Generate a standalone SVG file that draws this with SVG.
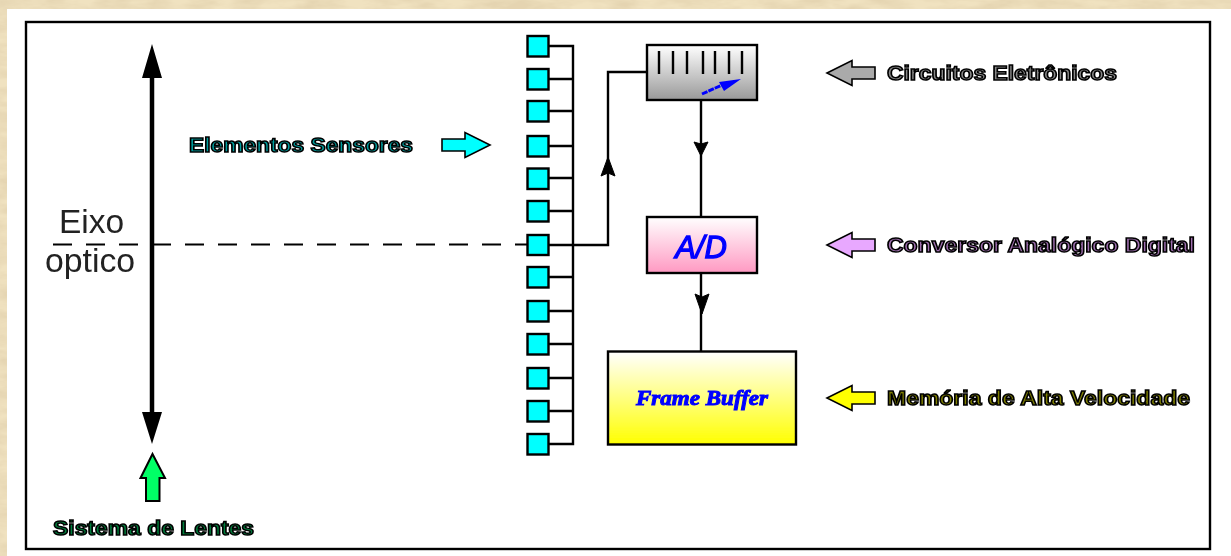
<svg xmlns="http://www.w3.org/2000/svg" width="1231" height="556" viewBox="0 0 1231 556">
<style>
.soft{filter:url(#soft)}
.frame{fill:none;stroke:#000;stroke-width:2.400}
.box{stroke:#000;stroke-width:2.400}
.sq{fill:#00ffff;stroke:#000;stroke-width:2.400}
.wire{fill:none;stroke:#000;stroke-width:2.400}
.lab{font-family:"Liberation Sans",Arial,sans-serif;font-weight:bold;font-size:20px;stroke:#000;stroke-width:1.500}
.hand{stroke:#000;stroke-width:1.600}
.big{font-family:"Liberation Sans",Arial,sans-serif;fill:#222;text-anchor:middle}
</style>
<defs>
<filter id="soft" x="-10%" y="-30%" width="120%" height="160%"><feGaussianBlur stdDeviation="0.6"/></filter>
<filter id="softer" x="-10%" y="-30%" width="120%" height="160%"><feGaussianBlur stdDeviation="0.45"/></filter>
<filter id="paper" x="0" y="0" width="100%" height="100%">
<feTurbulence type="fractalNoise" baseFrequency="0.03 0.09" numOctaves="4" seed="4"/>
<feColorMatrix values="0 0 0 0 0.78  0 0 0 0 0.66  0 0 0 0 0.44  1.400 1.400 0 0 -1"/>
</filter>
<linearGradient id="gGrey" x1="0" y1="0" x2="0" y2="1"><stop offset="0" stop-color="#fff"/><stop offset="1" stop-color="#999"/></linearGradient>
<linearGradient id="gPink" x1="0" y1="0" x2="0" y2="1"><stop offset="0" stop-color="#fff"/><stop offset="1" stop-color="#ff99c2"/></linearGradient>
<linearGradient id="gYellow" x1="0" y1="0" x2="0" y2="1"><stop offset="0" stop-color="#fff"/><stop offset="1" stop-color="#ff0"/></linearGradient>
<path id="leftArrow" d="M0 0 L25 -12.500 V-6 H48 V6 H25 V12.500 Z"/>
</defs>

<g id="background">
<rect width="1231" height="556" fill="#f0e2c0"/>
<rect width="1231" height="556" filter="url(#paper)"/>
<rect x="7" y="9" width="1224" height="547" fill="#fff"/>
</g>
<g id="frame" class="soft"><rect class="frame" x="26" y="22" width="1184" height="527"/></g>

<g id="connectors" class="soft">
<path d="M53 244.500H527" fill="none" stroke="#000" stroke-width="2.200" stroke-dasharray="19 14"/>
<path class="wire" d="M548 46H573V444H548M548 79H573M548 111H573M548 146H573M548 178H573M548 211H573M548 277H573M548 311H573M548 344H573M548 378H573M548 411H573"/>
<path class="wire" d="M548 245H608V72H647"/>
<path d="M608 157L615 176L608 173L601 176Z" fill="#000" stroke="#000"/>
<path class="wire" d="M701 100V217"/>
<path d="M701 156L694 142L701 144L708 142Z" fill="#000" stroke="#000"/>
<path class="wire" d="M701 273V351"/>
<path d="M702 314L695 294L702 297L709 294Z" fill="#000" stroke="#000"/>
</g>

<g id="lens" class="soft">
<path d="M152 77V412" stroke="#000" stroke-width="4.500" fill="none"/>
<path d="M152 44L162 78H142Z M152 444L162 412H142Z" fill="#000"/>
</g>
<g id="eixo-label" filter="url(#softer)"><text class="big" x="91.500" y="233" font-size="33.500">Eixo</text><text class="big" x="90" y="272" font-size="33.800">optico</text></g>

<g id="sensors" class="soft">
<rect class="sq" x="527.500" y="36" width="21" height="20.500"/>
<rect class="sq" x="527.500" y="69" width="21" height="20.500"/>
<rect class="sq" x="527.500" y="101" width="21" height="20.500"/>
<rect class="sq" x="527.500" y="136" width="21" height="20.500"/>
<rect class="sq" x="527.500" y="168.500" width="21" height="20.500"/>
<rect class="sq" x="527.500" y="201" width="21" height="20.500"/>
<rect class="sq" x="527.500" y="235" width="21" height="20"/>
<rect class="sq" x="527.500" y="267" width="21" height="20.500"/>
<rect class="sq" x="527.500" y="301" width="21" height="20.500"/>
<rect class="sq" x="527.500" y="334" width="21" height="20.500"/>
<rect class="sq" x="527.500" y="368" width="21" height="20.500"/>
<rect class="sq" x="527.500" y="401" width="21" height="20.500"/>
<rect class="sq" x="527.500" y="434" width="21" height="20.500"/>
</g>

<g id="circuits" class="soft">
<rect class="box" x="647" y="45" width="110" height="55" fill="url(#gGrey)"/>
<path d="M659 51V74M673 51V74M687 51V74M703 51V74M715 51V74M729 51V74M742 51V74" stroke="#000" stroke-width="2.400" fill="none"/>
<path d="M702 94L722 85" stroke="#0000ff" stroke-width="3" stroke-dasharray="6 1" fill="none"/>
<path d="M741 79L724 91L719 82Z" fill="#0000ff"/>
</g>

<g id="ad" class="soft">
<rect class="box" x="647" y="217" width="110" height="56" fill="url(#gPink)"/>
<text x="701" y="258" text-anchor="middle" font-family="Liberation Sans, Arial, sans-serif" font-style="italic" font-size="31" fill="#0000ff" stroke="#0000ff" stroke-width="1.300">A/D</text>
</g>

<g id="frame-buffer" class="soft">
<rect class="box" x="608" y="351.500" width="188" height="93" fill="url(#gYellow)"/>
<text x="636" y="405" font-family="Liberation Serif, Times New Roman, serif" font-style="italic" font-weight="bold" font-size="22" fill="#0000ff" stroke="#0000ff" stroke-width="1" textLength="132" lengthAdjust="spacingAndGlyphs">Frame Buffer</text>
</g>

<g id="label-sensores" class="soft">
<text class="lab" x="189" y="152" fill="#00a0a0" textLength="224" lengthAdjust="spacingAndGlyphs">Elementos Sensores</text>
<use href="#leftArrow" transform="translate(490 145) scale(-1 1)" fill="#00ffff" class="hand"/>
</g>
<g id="label-circuitos" class="soft">
<text class="lab" x="887" y="80" fill="#888" textLength="230" lengthAdjust="spacingAndGlyphs">Circuitos Eletrônicos</text>
<use href="#leftArrow" transform="translate(827 73)" fill="#aaa" class="hand"/>
</g>
<g id="label-conversor" class="soft">
<text class="lab" x="887" y="252" fill="#a070b0" textLength="308" lengthAdjust="spacingAndGlyphs">Conversor Analógico Digital</text>
<use href="#leftArrow" transform="translate(827 245)" fill="#e8a8ff" class="hand"/>
</g>
<g id="label-memoria" class="soft">
<text class="lab" x="887" y="405" fill="#808000" textLength="303" lengthAdjust="spacingAndGlyphs">Memória de Alta Velocidade</text>
<use href="#leftArrow" transform="translate(827 398)" fill="#ffff00" class="hand"/>
</g>
<g id="label-lentes" class="soft">
<text class="lab" x="53" y="535" fill="#00803c" textLength="201" lengthAdjust="spacingAndGlyphs">Sistema de Lentes</text>
<path d="M152.500 454L165 478H159.500V501H146V478H140.500Z" fill="#00ff66" stroke="#000" stroke-width="2"/>
</g>
</svg>
